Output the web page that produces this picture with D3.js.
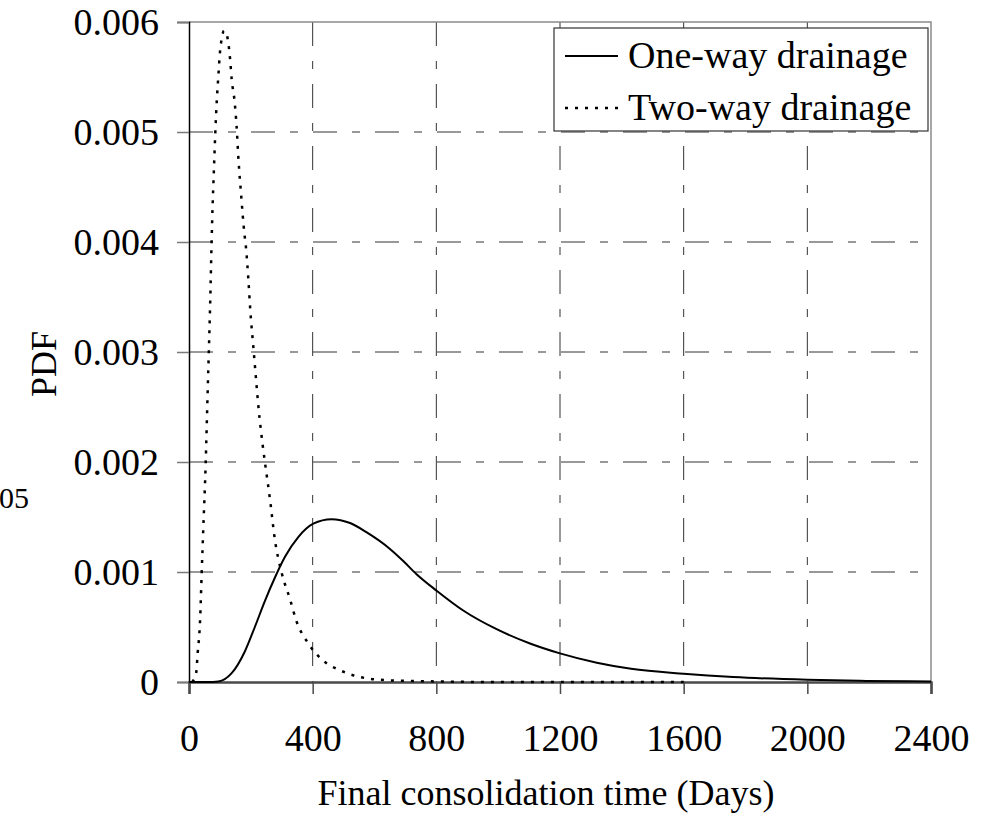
<!DOCTYPE html>
<html>
<head>
<meta charset="utf-8">
<script src="https://cdn.jsdelivr.net/npm/d3@7"></script>
<style>
  body { margin: 0; background: #fff; }
  text { font-family: "Liberation Serif", "Times New Roman", serif; fill: #000; }
</style>
</head>
<body>
<script>
// values
var oneWayDays = [0, 60, 95, 138, 181, 213, 246, 278, 311, 354, 402, 461, 521, 575, 650, 693, 736, 801, 887, 995, 1103, 1200, 1319, 1430, 1600, 1760, 2000, 2190, 2400];
var oneWayPdf = [0, 0, 0.000005, 0.00008, 0.00028, 0.0005, 0.00074, 0.00095, 0.00114, 0.00132, 0.00144, 0.00148, 0.001445, 0.00136, 0.00121, 0.0011, 0.00098, 0.00083, 0.00065, 0.00048, 0.00035, 0.00026, 0.000175, 0.00012, 0.000075, 0.000045, 0.00002, 0.00001, 0.000005];

var twoWayDays = [10, 23, 28, 36, 41, 46, 54, 60, 64, 69, 73, 75, 81, 85, 90, 95, 100, 106, 113, 120, 125, 133, 138, 147, 154, 160, 168, 179, 184, 192, 199, 208, 216, 226, 238, 246, 262, 278, 300, 327, 348, 386, 445, 478, 553, 650, 800, 1000, 1600];
var twoWayPdf = [0, 0.00008, 0.00026, 0.00057, 0.00099, 0.00138, 0.00199, 0.0026, 0.00299, 0.0035, 0.00399, 0.0042, 0.00469, 0.00499, 0.00529, 0.00551, 0.00572, 0.00585, 0.00592, 0.0059, 0.00585, 0.00566, 0.00548, 0.00529, 0.00505, 0.00475, 0.00445, 0.00408, 0.00396, 0.00366, 0.00335, 0.00305, 0.00278, 0.00246, 0.00216, 0.00199, 0.00166, 0.00129, 0.00099, 0.00075, 0.00055, 0.00035, 0.00017, 0.00012, 0.000045, 0.000015, 0.000005, 0, 0];

var xTicks = [0, 400, 800, 1200, 1600, 2000, 2400];
var xTickLabels = ["0", "400", "800", "1200", "1600", "2000", "2400"];
var yTicks = [0, 0.001, 0.002, 0.003, 0.004, 0.005, 0.006];
var yTickLabels = ["0", "0.001", "0.002", "0.003", "0.004", "0.005", "0.006"];
var seriesNames = ["One-way drainage", "Two-way drainage"];

var width = 990,
    height = 814;
var plotLeft = 189, plotRight = 931, plotTop = 22, plotBottom = 682;
var dotted = "3,7";
var gridDash = "24,15,8,15";

var svg = d3.select("body")
    .append("svg")
    .attr("width", width)
    .attr("height", height);

var x = d3.scaleLinear().domain([0, 2400]).range([plotLeft, plotRight]);
var y = d3.scaleLinear().domain([0, 0.006]).range([plotBottom, plotTop]);

// gridlines
var grid = svg.append("g").attr("id", "grid");
grid.selectAll("line.h")
    .data(yTicks.filter(function(d) { return d > 0 && d < 0.006; }))
    .enter()
    .append("line")
    .attr("x1", plotLeft).attr("x2", plotRight)
    .attr("y1", function(d) { return y(d); })
    .attr("y2", function(d) { return y(d); })
    .attr("stroke", "#333")
    .attr("stroke-width", 1)
    .attr("stroke-dasharray", gridDash);
grid.selectAll("line.v")
    .data(xTicks.filter(function(d) { return d > 0 && d < 2400; }))
    .enter()
    .append("line")
    .attr("y1", plotTop).attr("y2", plotBottom)
    .attr("x1", function(d) { return x(d); })
    .attr("x2", function(d) { return x(d); })
    .attr("stroke", "#333")
    .attr("stroke-width", 1)
    .attr("stroke-dasharray", gridDash);

// frame
svg.append("path")
    .attr("d", "M" + plotLeft + "," + plotTop + "H" + plotRight + "V" + plotBottom)
    .attr("fill", "none")
    .attr("stroke", "#8a8a8a")
    .attr("stroke-width", 1.5);

// axes
var yAxis = svg.append("g")
    .attr("transform", "translate(" + plotLeft + ",0)")
    .call(d3.axisLeft(y).tickValues(yTicks).tickSize(12).tickFormat(function(d, i) { return yTickLabels[i]; }));
yAxis.select(".domain").attr("stroke", "#000").attr("stroke-width", 1.5);
yAxis.selectAll(".tick line").attr("stroke", "#7a7a7a").attr("stroke-width", 1.5);
yAxis.selectAll(".tick text")
    .attr("x", -30)
    .attr("dy", "0.34em")
    .style("font-family", "'Liberation Serif', serif")
    .style("font-size", "38px");

var xAxis = svg.append("g")
    .attr("transform", "translate(0," + plotBottom + ")")
    .call(d3.axisBottom(x).tickValues(xTicks).tickSize(12).tickFormat(function(d, i) { return xTickLabels[i]; }));
xAxis.select(".domain").attr("stroke", "#4a4a4a").attr("stroke-width", 2.5);
xAxis.selectAll(".tick line").attr("stroke", "#4a4a4a").attr("stroke-width", 1.5);
xAxis.selectAll(".tick text")
    .attr("y", 69)
    .attr("dy", 0)
    .style("font-family", "'Liberation Serif', serif")
    .style("font-size", "38px");

// curves
var line = d3.line()
    .x(function(d) { return x(d[0]); })
    .y(function(d) { return y(d[1]); })
    .curve(d3.curveMonotoneX);

svg.append("path")
    .datum(d3.zip(twoWayDays, twoWayPdf))
    .attr("d", line)
    .attr("fill", "none")
    .attr("stroke", "#000")
    .attr("stroke-width", 2.5)
    .attr("stroke-dasharray", dotted);

svg.append("path")
    .datum(d3.zip(oneWayDays, oneWayPdf))
    .attr("d", line)
    .attr("fill", "none")
    .attr("stroke", "#000")
    .attr("stroke-width", 2);

// legend
var legend = svg.append("g").attr("id", "legend");
legend.append("rect")
    .attr("x", 554).attr("y", 28)
    .attr("width", 374).attr("height", 103)
    .attr("fill", "#fff")
    .attr("stroke", "#333")
    .attr("stroke-width", 1.2);
seriesNames.forEach(function(name, i) {
    var ly = 56 + i * 52;
    legend.append("line")
        .attr("x1", 565).attr("x2", 618)
        .attr("y1", ly).attr("y2", ly)
        .attr("stroke", "#000")
        .attr("stroke-width", i == 0 ? 2 : 2.5)
        .attr("stroke-dasharray", i == 0 ? null : dotted);
    legend.append("text")
        .attr("x", 628)
        .attr("y", ly + 12)
        .style("font-size", "38px")
        .text(name);
});

// titles
svg.append("text")
    .attr("x", 546)
    .attr("y", 805)
    .attr("text-anchor", "middle")
    .style("font-size", "36px")
    .text("Final consolidation time (Days)");

svg.append("text")
    .attr("transform", "translate(56,364) rotate(-90)")
    .attr("text-anchor", "middle")
    .style("font-size", "36px")
    .text("PDF");

// stray label at the left edge
svg.append("text")
    .attr("x", 29)
    .attr("y", 508)
    .attr("text-anchor", "end")
    .style("font-family", "'Liberation Serif', serif")
    .style("font-size", "30px")
    .text("05");
</script>
</body>
</html>
